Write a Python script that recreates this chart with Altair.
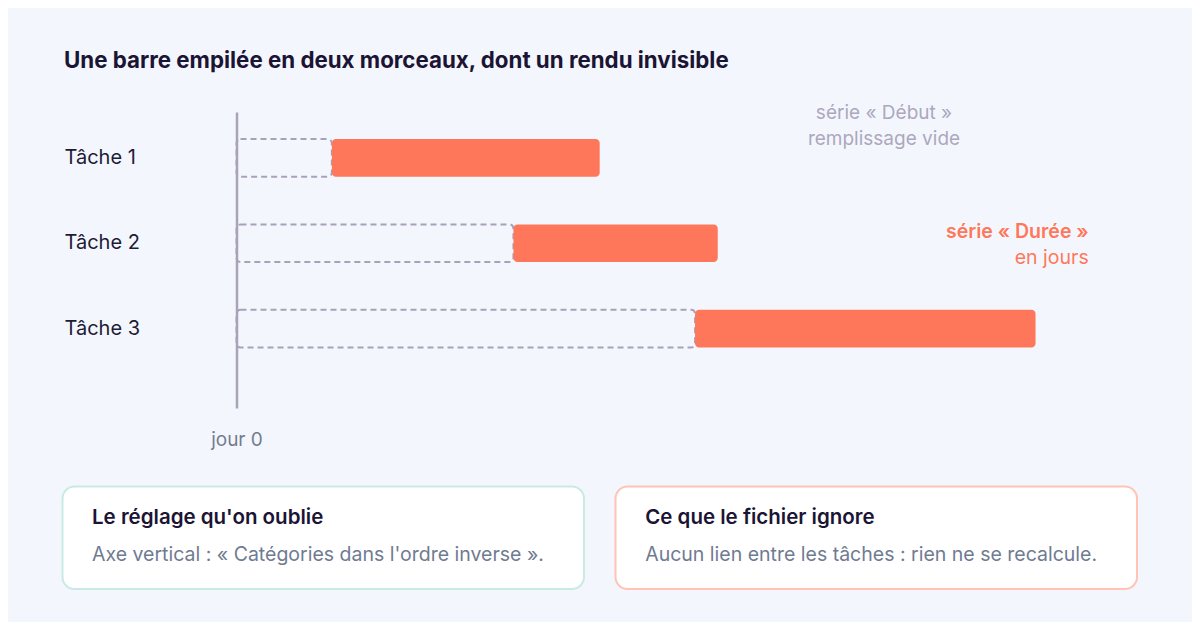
import altair as alt
import pandas as pd

# --- data ---
taches = ["Tâche 1", "Tâche 2", "Tâche 3"]
debut = [4.2, 12.2, 20.2]      # jours (série « Début », invisible)
duree = [11.8, 9.0, 15.0]      # jours (série « Durée »)

titre = "Une barre empilée en deux morceaux, dont un rendu invisible"
note_debut = ["série « Début »", "remplissage vide"]
note_duree = ["série « Durée »", "en jours"]
box_titres = ["Le réglage qu'on oublie", "Ce que le fichier ignore"]
box_textes = ["Axe vertical : « Catégories dans l'ordre inverse ».",
              "Aucun lien entre les tâches : rien ne se recalcule."]

df = pd.DataFrame({"tache": taches, "debut": debut, "duree": duree})
FONT = "Inter"
ORANGE = "#FF775A"
DASH = "#A9A1B9"

x_scale = alt.Scale(domain=[0, 40], nice=False, zero=True)
y_scale = alt.Scale(domain=taches, paddingInner=0.5585, paddingOuter=0.5122, align=0.3086)

y_enc = alt.Y("tache:N", scale=y_scale, sort=taches, title=None,
              axis=alt.Axis(labelAlign="left", labelPadding=172.5, labelBaseline="middle",
                            labelFont=FONT, labelFontSize=20, labelColor="#1E1B35",
                            ticks=False, tickSize=0, domain=True, domainColor="#A9A3B6",
                            domainWidth=2.5, grid=False))

x_axis = alt.Axis(values=[0], labelExpr="'jour ' + datum.label", title=None, grid=False,
                  domain=False, ticks=False, tickSize=0, labelPadding=37,
                  labelFlush=False, labelAlign="center",
                  labelBaseline="alphabetic", labelFont=FONT, labelFontSize=19,
                  labelColor="#737C90")

base = alt.Chart(df)

start_bars = base.mark_bar(fillOpacity=0, stroke=DASH, strokeWidth=2,
                           strokeDash=[6, 4], cornerRadius=4).encode(
    x=alt.X("debut:Q", scale=x_scale, axis=x_axis, stack=None),
    y=y_enc,
)

dur_bars = base.transform_calculate(fin="datum.debut + datum.duree").mark_bar(
    color=ORANGE, cornerRadius=4).encode(
    x=alt.X("debut:Q", scale=x_scale, stack=None),
    x2="fin:Q",
    y=y_enc,
)

one = alt.Data(values=[{"k": 1}])

def txt(text, x, y, size, color, weight="normal", align="left"):
    return alt.Chart(one).mark_text(text=text, align=align, baseline="alphabetic",
                                    font=FONT, fontSize=size, fontWeight=weight,
                                    color=color).encode(x=alt.value(x), y=alt.value(y))

title_t = txt(titre, -172.5, -44, 22.3, "#1B1434", "bold")
nd1 = txt(note_debut[0], 647.5, 7, 19, "#ADA7BE", align="center")
nd2 = txt(note_debut[1], 647.5, 33, 19, "#ADA7BE", align="center")
nu1 = txt(note_duree[0], 852.2, 126, 19.5, ORANGE, 600, align="right")
nu2 = txt(note_duree[1], 852.2, 152, 19.5, ORANGE, align="right")

def box(x1, x2, color):
    return alt.Chart(one).mark_rect(fill="white", stroke=color, strokeWidth=2,
                                    cornerRadius=12).encode(
        x=alt.value(x1), x2=alt.value(x2), y=alt.value(374.5), y2=alt.value(477))

b1 = box(-174, 347.5, "#C9EAE2")
b2 = box(379, 900.5, "#FFC4B5")
b1t = txt(box_titres[0], -144.5, 412, 20.5, "#1B1434", 600)
b1b = txt(box_textes[0], -144.5, 449, 19.5, "#6F7B91")
b2t = txt(box_titres[1], 408.7, 412, 20.5, "#1B1434", 600)
b2b = txt(box_textes[1], 408.7, 449, 19.5, "#6F7B91")

chart = alt.layer(b1, b2, start_bars, dur_bars, title_t, nd1, nd2, nu1, nu2,
                  b1t, b1b, b2t, b2b).properties(
    width=908, height=296,
    autosize=alt.AutoSizeParams(type="none"),
    padding={"left": 228.5, "top": 104, "right": 47.5, "bottom": 214},
    background="#F3F7FD",
).configure_view(stroke=None)

chart.save("out.html", embed_options={"renderer": "svg", "actions": False})
